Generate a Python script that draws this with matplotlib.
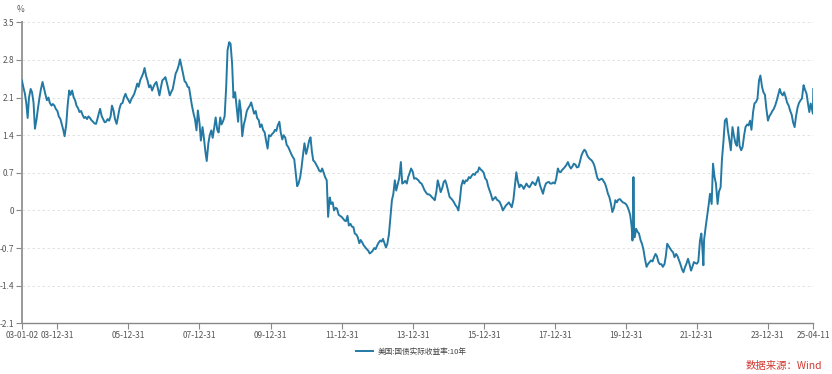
import matplotlib
matplotlib.use('Agg')
import matplotlib.pyplot as plt
import pandas as pd

plt.rcParams['font.family'] = ['Noto Sans CJK SC', 'DejaVu Sans']

# semi-monthly readings (1st and 15th of each month), %
y2003 = [2.42, 2.3, 2.17, 2.0, 1.72, 2.1, 2.26, 2.2, 2.0, 1.52, 1.7, 1.9, 2.1, 2.25, 2.39, 2.28, 2.15, 2.05, 2.1, 2.0, 1.95, 1.98, 1.95, 1.89]
y2004 = [1.85, 1.75, 1.7, 1.6, 1.5, 1.38, 1.6, 1.95, 2.23, 2.15, 2.23, 2.11, 2.05, 1.95, 1.9, 1.83, 1.85, 1.78, 1.72, 1.74, 1.7, 1.75, 1.72, 1.68]
y2005 = [1.65, 1.62, 1.61, 1.7, 1.8, 1.89, 1.75, 1.7, 1.64, 1.65, 1.7, 1.67, 1.75, 1.95, 1.85, 1.7, 1.61, 1.75, 1.9, 1.98, 2.0, 2.1, 2.17, 2.1]
y2006 = [2.05, 2.0, 2.08, 2.12, 2.17, 2.25, 2.36, 2.3, 2.42, 2.48, 2.55, 2.65, 2.5, 2.42, 2.29, 2.33, 2.23, 2.3, 2.36, 2.39, 2.25, 2.14, 2.3, 2.42]
y2007 = [2.45, 2.48, 2.36, 2.25, 2.14, 2.2, 2.26, 2.4, 2.55, 2.6, 2.7, 2.81, 2.67, 2.55, 2.4, 2.38, 2.3, 2.29, 2.11, 1.95, 1.8, 1.7, 1.49, 1.86]
y2008 = [1.62, 1.3, 1.55, 1.35, 1.1, 0.92, 1.25, 1.4, 1.49, 1.35, 1.55, 1.73, 1.5, 1.45, 1.73, 1.6, 1.67, 1.75, 2.29, 2.98, 3.13, 3.1, 2.73, 2.1]
y2009 = [2.2, 1.95, 1.65, 2.05, 1.85, 1.38, 1.6, 1.7, 1.85, 1.9, 1.95, 2.01, 1.9, 1.8, 1.85, 1.72, 1.68, 1.55, 1.6, 1.5, 1.45, 1.3, 1.15, 1.4]
y2010 = [1.38, 1.42, 1.45, 1.5, 1.48, 1.58, 1.65, 1.45, 1.32, 1.4, 1.35, 1.22, 1.18, 1.12, 1.05, 1.0, 0.95, 0.72, 0.45, 0.5, 0.62, 0.8, 1.05, 1.25]
y2011 = [1.05, 1.15, 1.3, 1.36, 1.1, 0.93, 0.9, 0.85, 0.8, 0.74, 0.72, 0.78, 0.7, 0.62, 0.56, -0.12, 0.24, 0.12, 0.15, 0.0, 0.05, 0.03, -0.08, -0.1]
y2012 = [-0.12, -0.15, -0.19, -0.2, -0.1, -0.28, -0.25, -0.3, -0.31, -0.43, -0.45, -0.5, -0.61, -0.55, -0.6, -0.65, -0.69, -0.72, -0.75, -0.8, -0.78, -0.75, -0.7, -0.72]
y2013 = [-0.65, -0.6, -0.56, -0.58, -0.53, -0.6, -0.69, -0.62, -0.45, -0.15, 0.19, 0.3, 0.56, 0.37, 0.5, 0.6, 0.9, 0.5, 0.52, 0.55, 0.5, 0.62, 0.7, 0.78]
y2014 = [0.72, 0.59, 0.6, 0.58, 0.56, 0.52, 0.5, 0.45, 0.38, 0.34, 0.3, 0.3, 0.28, 0.25, 0.22, 0.19, 0.35, 0.56, 0.45, 0.34, 0.42, 0.53, 0.56, 0.48]
y2015 = [0.35, 0.25, 0.22, 0.19, 0.15, 0.1, 0.06, 0.0, 0.2, 0.45, 0.56, 0.5, 0.56, 0.55, 0.62, 0.6, 0.65, 0.68, 0.66, 0.71, 0.72, 0.8, 0.76, 0.74]
y2016 = [0.7, 0.6, 0.56, 0.45, 0.37, 0.3, 0.19, 0.22, 0.25, 0.2, 0.18, 0.15, 0.08, 0.0, 0.05, 0.09, 0.12, 0.15, 0.1, 0.06, 0.2, 0.43, 0.71, 0.55]
y2017 = [0.43, 0.48, 0.45, 0.4, 0.45, 0.5, 0.45, 0.43, 0.48, 0.53, 0.5, 0.47, 0.55, 0.62, 0.47, 0.4, 0.31, 0.42, 0.5, 0.52, 0.53, 0.5, 0.5, 0.52]
y2018 = [0.5, 0.59, 0.78, 0.72, 0.71, 0.75, 0.78, 0.81, 0.85, 0.9, 0.82, 0.78, 0.82, 0.87, 0.85, 0.8, 0.81, 0.9, 1.02, 1.08, 1.13, 1.1, 1.02, 0.98]
y2019 = [0.95, 0.93, 0.88, 0.81, 0.7, 0.6, 0.56, 0.58, 0.59, 0.55, 0.5, 0.42, 0.31, 0.25, 0.12, -0.03, 0.05, 0.19, 0.15, 0.2, 0.21, 0.18, 0.15, 0.14]
y2020 = [0.12, 0.08, 0.0, -0.09, -0.31, -0.4, -0.5, -0.34, -0.4, -0.43, -0.56, -0.62, -0.74, -0.9, -1.05, -1.0, -0.96, -0.93, -0.95, -0.88, -0.81, -0.85, -0.96, -1.0]
y2021 = [-1.0, -1.05, -1.0, -0.85, -0.62, -0.66, -0.71, -0.75, -0.78, -0.87, -0.81, -0.85, -0.93, -1.0, -1.1, -1.15, -1.05, -0.99, -0.9, -0.99, -1.12, -1.05, -0.96, -0.98]
y2022 = [-0.99, -0.95, -0.56, -0.43, -0.8, -0.55, -0.3, -0.12, 0.1, 0.31, 0.12, 0.87, 0.62, 0.5, 0.12, 0.35, 0.43, 0.95, 1.3, 1.67, 1.71, 1.49, 1.3, 1.12]
y2023 = [1.55, 1.4, 1.25, 1.2, 1.55, 1.2, 1.12, 1.18, 1.4, 1.55, 1.6, 1.58, 1.67, 1.5, 1.83, 1.99, 2.02, 2.08, 2.42, 2.51, 2.3, 2.2, 2.15, 1.9]
y2024 = [1.67, 1.75, 1.8, 1.85, 1.89, 1.95, 2.05, 2.15, 2.26, 2.18, 2.14, 2.2, 2.11, 2.01, 1.95, 1.86, 1.78, 1.64, 1.55, 1.75, 1.92, 2.0, 2.05, 2.08]
y2025 = [2.33, 2.25, 2.17, 1.99, 1.83, 1.99, 1.85]

# individual dated readings (short-lived moves)
extra_dates = ['2020-03-09', '2020-03-19', '2020-03-24', '2022-03-08', '2025-04-07', '2025-04-11']
extra_vals = [-0.56, 0.62, -0.3, -1.02, 1.8, 2.26]

xtick_dates = ['2003-01-02', '2003-12-31', '2005-12-31', '2007-12-31', '2009-12-31', '2011-12-31',
               '2013-12-31', '2015-12-31', '2017-12-31', '2019-12-31', '2021-12-31', '2023-12-31', '2025-04-11']
xtick_labels = ['03-01-02', '03-12-31', '05-12-31', '07-12-31', '09-12-31', '11-12-31',
                '13-12-31', '15-12-31', '17-12-31', '19-12-31', '21-12-31', '23-12-31', '25-04-11']
yticks = [-2.1, -1.4, -0.7, 0, 0.7, 1.4, 2.1, 2.8, 3.5]
ytick_labels = ['-2.1', '-1.4', '-0.7', '0', '0.7', '1.4', '2.1', '2.8', '3.5']
series_name = '美国:国债实际收益率:10年'

vals = (y2003 + y2004 + y2005 + y2006 + y2007 + y2008 + y2009 + y2010 + y2011 + y2012 +
        y2013 + y2014 + y2015 + y2016 + y2017 + y2018 + y2019 + y2020 + y2021 + y2022 +
        y2023 + y2024 + y2025)
dates = pd.date_range('2003-01-01', periods=len(vals), freq='SMS')
s = pd.Series(vals, index=dates)
s2 = pd.Series(extra_vals, index=pd.to_datetime(extra_dates))
s = pd.concat([s, s2]).sort_index()

LINE = '#2379a3'
GRAY = '#555555'

fig = plt.figure(figsize=(8.32, 3.74), dpi=100)
ax = fig.add_axes([22 / 832, 1 - 323.3 / 374, (813.3 - 22) / 832, (323.3 - 22.3) / 374])

for yv in yticks[1:]:
    ax.axhline(yv, color='#dddddd', lw=0.6, ls=(0, (3, 3)), zorder=0)

ax.plot(s.index, s.values, color=LINE, lw=1.4, zorder=3, label=series_name)

ax.set_xlim(pd.Timestamp('2003-01-02'), pd.Timestamp('2025-04-11'))
ax.set_ylim(-2.1, 3.5)
ax.set_yticks(yticks)
ax.set_yticklabels(ytick_labels)
ax.set_xticks(pd.to_datetime(xtick_dates))
ax.set_xticklabels(xtick_labels)

for sp in ['top', 'right']:
    ax.spines[sp].set_visible(False)
ax.spines['left'].set_color('#999999')
ax.spines['left'].set_linewidth(1.4)
ax.spines['bottom'].set_color('#888888')
ax.spines['bottom'].set_linewidth(1.0)

ax.tick_params(axis='both', labelsize=6, labelcolor=GRAY, color='#888888', length=4, width=0.8, pad=1.5)

fig.text(17 / 832, 1 - 9 / 374, '%', fontsize=6, color=GRAY, ha='left', va='center')

leg = fig.legend(loc='center', bbox_to_anchor=(411 / 832, 1 - 352 / 374), frameon=False,
                 fontsize=5.5, handlelength=2.2, handletextpad=0.6)
for t in leg.get_texts():
    t.set_color('#444444')

fig.text(822 / 832, 1 - 366 / 374, '数据来源：Wind', fontsize=7.5, color='#d03a30', ha='right', va='center')

fig.savefig('out.png', dpi=100)
